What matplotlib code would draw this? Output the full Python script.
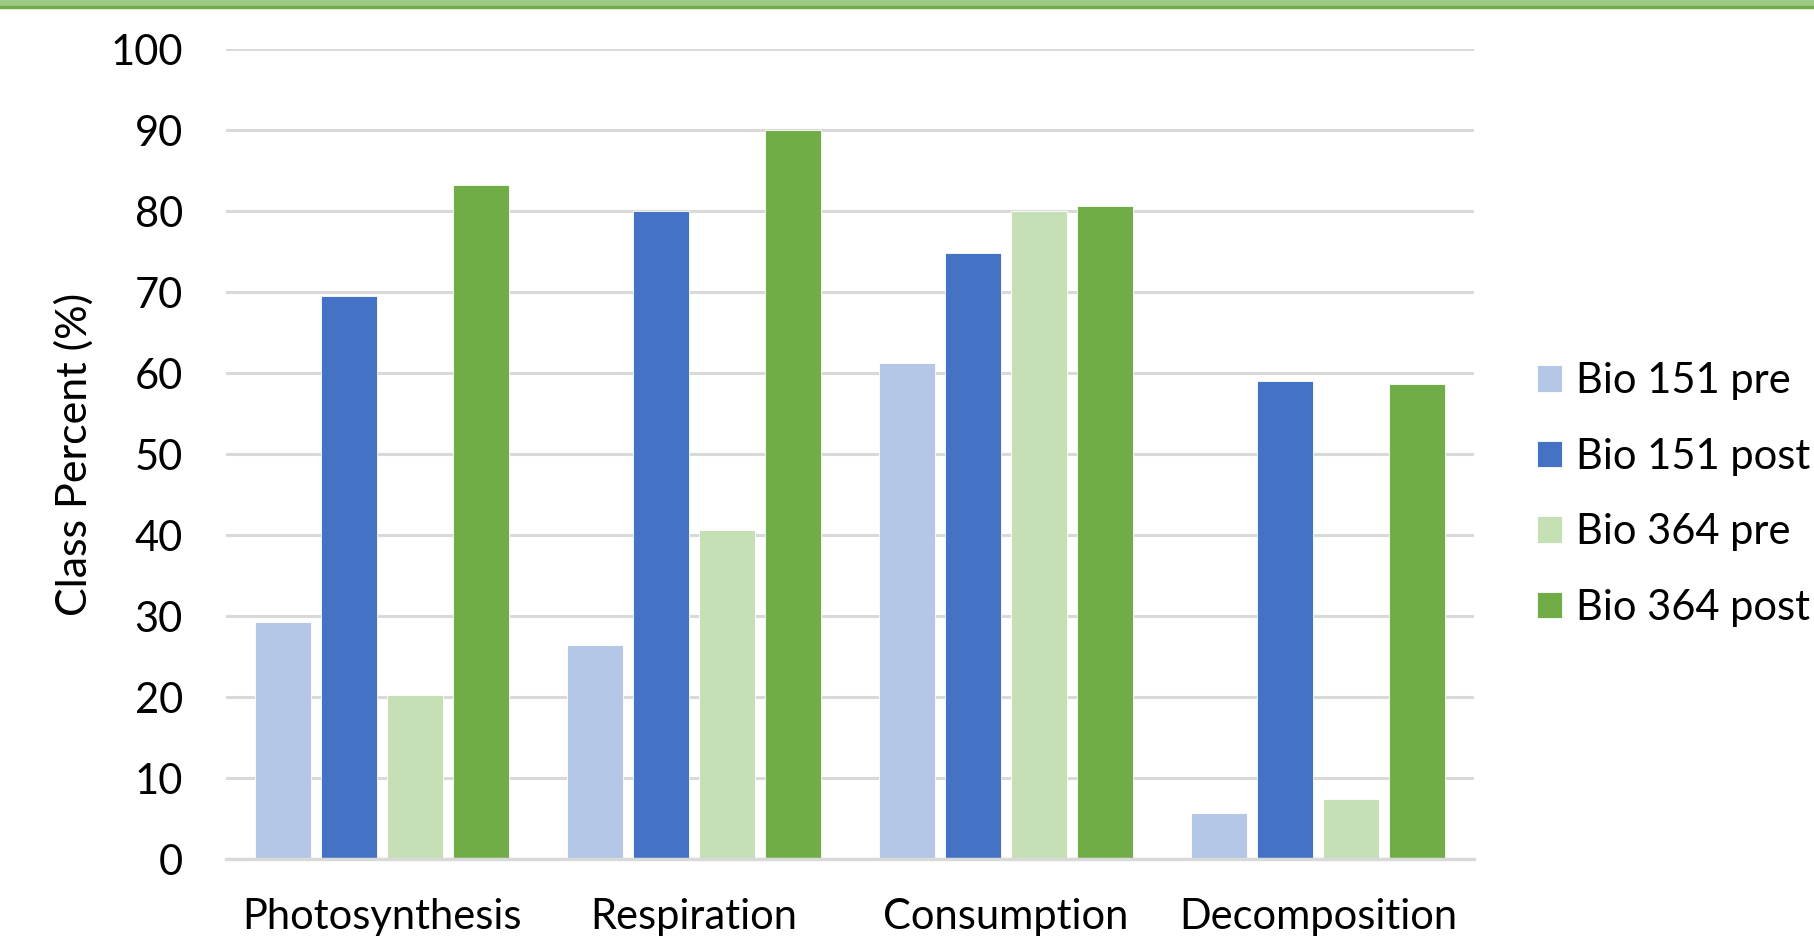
import numpy as np
import matplotlib.pyplot as plt
from matplotlib.patches import Rectangle

plt.rcParams["font.family"] = ["Lato", "DejaVu Sans"]

categorias = ["Photosynthesis", "Respiration", "Consumption", "Decomposition"]
series = ["Bio 151 pre", "Bio 151 post", "Bio 364 pre", "Bio 364 post"]
bio151_pre = [29.3, 26.4, 61.2, 5.7]
bio151_post = [69.5, 80.0, 74.8, 59.0]
bio364_pre = [20.3, 40.6, 80.0, 7.4]
bio364_post = [83.3, 90.0, 80.7, 58.7]
valores = [bio151_pre, bio151_post, bio364_pre, bio364_post]
colores = ["#b4c7e7", "#4472c4", "#c5e0b4", "#70ad47"]

fig = plt.figure(figsize=(18.14, 9.41), dpi=100)
ax = fig.add_axes([0.1246, 0.0871, 0.688, 0.8605])

x = np.arange(len(categorias))
paso = 0.2115
ancho = 0.178
for i, (nombre, vals, c) in enumerate(zip(series, valores, colores)):
    ax.bar(x + (i - 1.5) * paso, vals, width=ancho, color=c, label=nombre,
           edgecolor="white", linewidth=0.6, zorder=3)

ax.set_xlim(-0.5, len(categorias) - 0.5)
ax.set_ylim(0, 100)
ax.set_yticks(np.arange(0, 101, 10))
ax.set_xticks(x)
ax.set_xticklabels(categorias)
ax.tick_params(axis="both", length=0, labelsize=30, colors="black")
ax.tick_params(axis="x", pad=28)
ax.tick_params(axis="y", pad=31)
ax.grid(axis="y", color="#d9d9d9", linewidth=2.2, zorder=0)
for s in ["top", "right", "left"]:
    ax.spines[s].set_visible(False)
ax.spines["bottom"].set_color("#d9d9d9")
ax.spines["bottom"].set_linewidth(2.5)
ax.spines["bottom"].set_zorder(4)

ax.set_ylabel("Class Percent (%)", fontsize=31, labelpad=12)

ax.legend(loc="center left", bbox_to_anchor=(1.02, 0.45), frameon=False,
          fontsize=30, handlelength=0.6, handleheight=0.6,
          handletextpad=0.35, labelspacing=0.9)

# franja verde superior
fig.patches.append(Rectangle((0, 1 - 6 / 941), 1, 6 / 941, transform=fig.transFigure,
                             color="#9dca87", zorder=0))
fig.patches.append(Rectangle((0, 1 - 8 / 941), 1, 2 / 941, transform=fig.transFigure,
                             color="#70ad47", zorder=0))

plt.savefig("out.png", dpi=100)
